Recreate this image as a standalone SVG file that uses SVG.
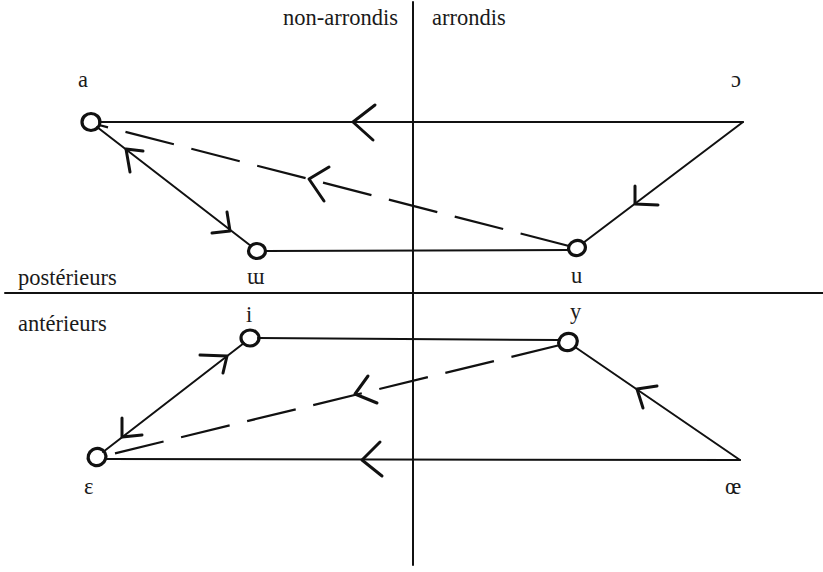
<svg xmlns="http://www.w3.org/2000/svg" width="823" height="572" viewBox="0 0 823 572">
<style>
.t{font-family:'Liberation Serif','DejaVu Serif','Times New Roman',serif;font-size:22.5px;fill:#1a1a1a}
.ln{stroke:#111;stroke-width:2;fill:none;stroke-linecap:round}
.ds{stroke:#111;stroke-width:2.2;fill:none;stroke-dasharray:50 18}
.ah{stroke:#111;stroke-width:3;fill:none;stroke-linecap:round;stroke-linejoin:round}
.nd{stroke:#111;stroke-width:3.2;fill:none}
</style>
<rect width="823" height="572" fill="#fff"/>
<g id="axes">
<line class="ln" x1="413" y1="2" x2="413" y2="565"/>
<line class="ln" x1="5" y1="293" x2="823" y2="293"/>
<text class="t" x="398" y="25" text-anchor="end">non-arrondis</text>
<text class="t" x="432" y="25">arrondis</text>
<text class="t" x="18" y="285">postérieurs</text>
<text class="t" x="18" y="331">antérieurs</text>
</g>
<g id="connectors">
<line class="ln" x1="99" y1="122" x2="743" y2="122"/>
<path class="ah" d="M375,105 L353,122 L373,140"/>
<line class="ln" x1="743" y1="122" x2="583" y2="243"/>
<path class="ah" d="M635,186 L635,204 L658,205"/>
<line class="ds" x1="569" y1="246" x2="99" y2="125"/>
<path class="ah" d="M329,167 L309,179 L324,201"/>
<line class="ln" x1="97" y1="127" x2="251" y2="246"/>
<path class="ah" d="M143,151 L126,149 L130,172"/>
<path class="ah" d="M227,212 L230,231 L212,233"/>
<line class="ln" x1="265" y1="251" x2="569" y2="250"/>
<line class="ln" x1="258" y1="338" x2="560" y2="340"/>
<line class="ln" x1="575" y1="347" x2="740" y2="460"/>
<path class="ah" d="M657,386 L637,389 L643,408"/>
<line class="ln" x1="740" y1="460" x2="105" y2="459"/>
<path class="ah" d="M380,442 L362,460 L382,476"/>
<line class="ds" x1="560" y1="345" x2="104" y2="456"/>
<path class="ah" d="M368,376 L355,394 L377,403"/>
<line class="ln" x1="103" y1="452" x2="244" y2="343"/>
<path class="ah" d="M200,355 L227,356 L223,373"/>
<path class="ah" d="M142,435 L122,437 L122,418"/>
</g>
<g id="node-a"><ellipse class="nd" cx="91" cy="122" rx="9" ry="8.5"/><text class="t" x="78" y="87">a</text></g>
<g id="node-open-o"><text class="t" x="731" y="87">ɔ</text></g>
<g id="node-u"><ellipse class="nd" cx="577" cy="248" rx="8.5" ry="7.5" transform="rotate(-20 577 248)"/><text class="t" x="571" y="283">u</text></g>
<g id="node-unrounded-u"><ellipse class="nd" cx="257" cy="251" rx="8.5" ry="7.5"/><text class="t" x="247" y="284">ɯ</text></g>
<g id="node-i"><ellipse class="nd" cx="250" cy="338" rx="9" ry="8"/><text class="t" x="246" y="322">i</text></g>
<g id="node-y"><ellipse class="nd" cx="568" cy="342" rx="9.5" ry="8.5" transform="rotate(-25 568 342)"/><text class="t" x="570" y="319">y</text></g>
<g id="node-epsilon"><ellipse class="nd" cx="97" cy="457" rx="9" ry="8.5" transform="rotate(-30 97 457)"/><text class="t" x="84" y="494">ε</text></g>
<g id="node-oe"><text class="t" x="725" y="494">œ</text></g>
</svg>
